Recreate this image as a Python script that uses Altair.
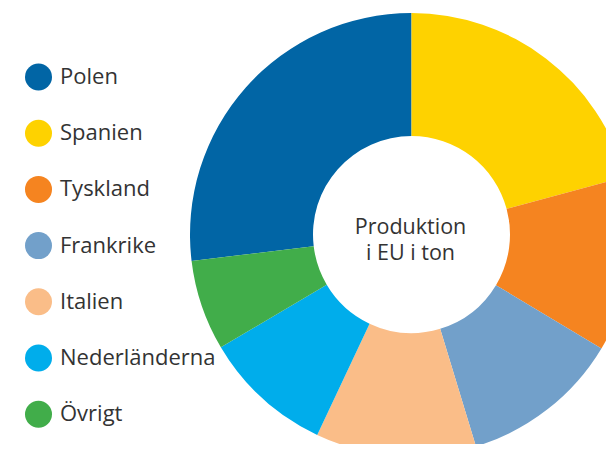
import altair as alt
import pandas as pd

countries = ["Polen", "Spanien", "Tyskland", "Frankrike", "Italien", "Nederländerna", "Övrigt"]
# share of EU production (%)
values = [26.9, 20.8, 12.8, 11.7, 11.7, 9.5, 6.6]
# clockwise drawing order starting at 12 o'clock
draw_order = [7, 1, 2, 3, 4, 5, 6]
colors = ["#0165a5", "#fed200", "#f58420", "#72a0ca", "#fabd88", "#00adeb", "#41ad4a"]
center_lines = ["Produktion", "i EU i ton"]

df = pd.DataFrame({"land": countries, "value": values, "ordning": draw_order})

CX, CY = 403.5, 226.5

donut = alt.Chart(df).mark_arc(innerRadius=98.5, outerRadius=221.5).encode(
    theta=alt.Theta("value:Q", stack=True),
    order=alt.Order("ordning:Q"),
    color=alt.Color(
        "land:N",
        scale=alt.Scale(domain=countries, range=colors),
        legend=alt.Legend(
            title=None,
            orient="none",
            legendX=17,
            legendY=55.5,
            symbolType="circle",
            symbolSize=729,
            symbolStrokeWidth=0,
            symbolOpacity=1,
            labelFont="Open Sans",
            labelFontSize=22,
            labelColor="#333333",
            labelOffset=8,
            rowPadding=29.2,
            labelLimit=300,
        ),
    ),
    x=alt.value(CX),
    y=alt.value(CY),
)

def center_label(txt, ypos):
    return alt.Chart(pd.DataFrame({"t": [txt]})).mark_text(
        font="Open Sans",
        fontSize=21.5,
        color="#333333",
        align="center",
        baseline="alphabetic",
    ).encode(text="t:N", x=alt.value(402.5), y=alt.value(ypos))

chart = alt.layer(
    donut, center_label(center_lines[0], 225.5), center_label(center_lines[1], 251.5)
).properties(
    width=598, height=436, padding=0,
    autosize=alt.AutoSizeParams(type="none"),
).configure_view(stroke=None)

chart.save("out.html", embed_options={"renderer": "svg", "actions": False})
